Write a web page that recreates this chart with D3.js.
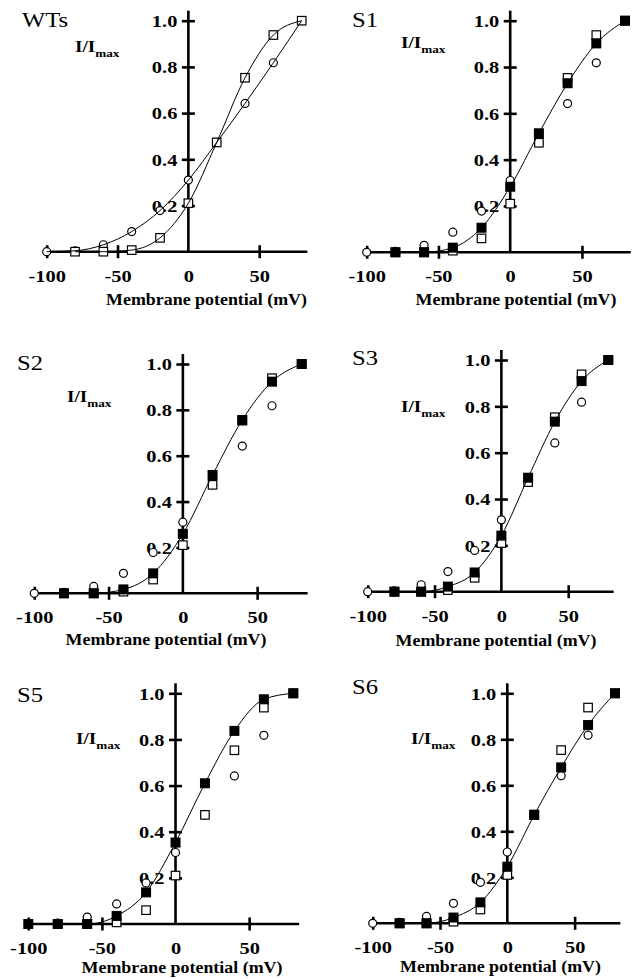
<!DOCTYPE html>
<html>
<head>
<meta charset="utf-8">
<script src="https://cdn.jsdelivr.net/npm/d3@7"></script>
<style>
  html, body { margin: 0; padding: 0; background: #fff; }
  svg { display: block; }
  text { font-family: "Liberation Serif", "Times New Roman", serif; fill: #000; }
</style>
</head>
<body>
<script>
// ---------------- DATA ----------------
const voltage = [-100, -80, -60, -40, -20, 0, 20, 40, 60, 80];           // mV
const wtCircles = [0, 0.004, 0.03, 0.087, 0.178, 0.31, 0.473, 0.642, 0.818, 1.0];
const wtSquares = [null, 0, 0, 0.007, 0.06, 0.21, 0.473, 0.753, 0.938, 1.0];
const mutantS1 = [null, 0, 0, 0.02, 0.106, 0.283, 0.514, 0.73, 0.902, 1.0];
const mutantS2 = [null, 0, 0, 0.017, 0.087, 0.259, 0.516, 0.756, 0.923, 1.0];
const mutantS3 = [null, 0, 0, 0.022, 0.083, 0.242, 0.492, 0.734, 0.909, 1.0];
const mutantS5 = [0, 0, 0, 0.035, 0.137, 0.353, 0.61, 0.837, 0.974, 1.0];
const mutantS6 = [null, 0, 0, 0.025, 0.091, 0.246, 0.471, 0.678, 0.862, 1.0];
const panelNames = ["WTs", "S1", "S2", "S3", "S5", "S6"];
const mutantSeries = [null, mutantS1, mutantS2, mutantS3, mutantS5, mutantS6];
const yTickValues = [0.2, 0.4, 0.6, 0.8, 1.0];
const xTickValues = [-100, -50, 0, 50];
const xTitle = "Membrane potential (mV)";

// ---------------- LAYOUT ----------------
const layout = [
  { xr: [46.7, 301.7], yr: [251.7, 20.7], label: [22, 27],   imax: [75, 52],    title: [206.5, 305] },
  { xr: [366.7, 625],  yr: [252.3, 20.7], label: [352, 27],  imax: [401, 48],   title: [516, 305] },
  { xr: [34.3, 301.7], yr: [593.3, 364],  label: [17, 370],  imax: [67, 402],   title: [166, 645] },
  { xr: [367.7, 608.3],yr: [591.7, 360],  label: [352, 365], imax: [401, 411.5],title: [496, 646] },
  { xr: [28.3, 293.3], yr: [924, 693.3],  label: [17, 701.5],imax: [76, 744],   title: [182, 973] },
  { xr: [372.7, 615],  yr: [923.3, 693.3],label: [352, 693.5],imax: [411, 744], title: [500.5, 972] }
];

const AXW = 2.6, TICK = 6.5, SX = 1.2;

const svg = d3.select("body").append("svg")
  .attr("width", 633).attr("height", 979);

function pts(values) {
  return voltage.map((v, i) => ({ v, val: values[i] })).filter(d => d.val !== null);
}

panelNames.forEach((name, pi) => {
  const L = layout[pi];
  const x = d3.scaleLinear().domain([-100, 80]).range(L.xr);
  const y = d3.scaleLinear().domain([0, 1]).range(L.yr);
  const g = svg.append("g");

  // panel label
  g.append("text")
    .attr("transform", `translate(${L.label[0]},${L.label[1]}) scale(1.23,1)`)
    .attr("font-size", 20)
    .text(name);

  // I/Imax label
  const t = g.append("text")
    .attr("transform", `translate(${L.imax[0]},${L.imax[1]}) scale(1.2,1)`)
    .attr("font-weight", "bold");
  t.append("tspan").attr("font-size", 16).text("I/I");
  t.append("tspan").attr("font-size", 11).attr("dy", 5).text("max");

  // x-axis title
  g.append("text")
    .attr("transform", `translate(${L.title[0]},${L.title[1]}) scale(1.12,1)`)
    .attr("text-anchor", "middle")
    .attr("font-weight", "bold")
    .attr("font-size", 16)
    .text(xTitle);

  // y axis (ticks + labels)
  const ya = g.append("g")
    .attr("transform", `translate(${x(0)},0)`)
    .call(d3.axisLeft(y).tickValues(yTickValues).tickSize(TICK).tickFormat(d3.format(".1f")));
  ya.attr("font-family", null).attr("font-size", null);
  ya.select(".domain").remove();
  ya.selectAll(".tick line").attr("x1", TICK).attr("stroke-width", AXW).attr("stroke", "#000");
  ya.selectAll(".tick text")
    .attr("x", 0).attr("dy", null)
    .attr("dominant-baseline", "central")
    .attr("transform", `translate(-11,0) scale(${SX},1)`)
    .attr("font-weight", "bold").attr("font-size", 17)
    .attr("font-family", '"Liberation Serif", serif');

  // x axis (ticks + labels)
  const xa = g.append("g")
    .attr("transform", `translate(0,${y(0)})`)
    .call(d3.axisBottom(x).tickValues(xTickValues).tickSize(TICK).tickFormat(d3.format("d")));
  xa.attr("font-family", null).attr("font-size", null);
  xa.select(".domain").remove();
  xa.selectAll(".tick line")
    .attr("y1", -TICK).attr("stroke-width", AXW).attr("stroke", "#000")
    .attr("display", d => d === 0 ? "none" : null);
  xa.selectAll(".tick text")
    .attr("y", 0).attr("dy", null)
    .attr("transform", `translate(0,30) scale(${SX},1)`)
    .attr("font-weight", "bold").attr("font-size", 17)
    .attr("font-family", '"Liberation Serif", serif')
    .text(d => d3.format("d")(d).replace("\u2212", "-"));

  // axis lines
  g.append("line")
    .attr("x1", x(-102)).attr("x2", x(84))
    .attr("y1", y(0)).attr("y2", y(0))
    .attr("stroke", "#000").attr("stroke-width", AXW);
  g.append("line")
    .attr("x1", x(0)).attr("x2", x(0))
    .attr("y1", y(0)).attr("y2", y(1) - 10)
    .attr("stroke", "#000").attr("stroke-width", AXW);

  const line = d3.line().x(d => x(d.v)).y(d => y(d.val)).curve(d3.curveMonotoneX);

  // WT open circles
  g.append("g").selectAll("circle").data(pts(wtCircles)).join("circle")
    .attr("cx", d => x(d.v)).attr("cy", d => y(d.val)).attr("r", 4)
    .attr("fill", "#fff").attr("stroke", "#000").attr("stroke-width", 1.2);

  // WT open squares
  const os = 8.5;
  g.append("g").selectAll("rect").data(pts(wtSquares)).join("rect")
    .attr("x", d => x(d.v) - os / 2).attr("y", d => y(d.val) - os / 2)
    .attr("width", os).attr("height", os)
    .attr("fill", "#fff").attr("stroke", "#000").attr("stroke-width", 1.2);

  const mut = mutantSeries[pi];
  if (mut) {
    const fs = 10;
    g.append("g").selectAll("rect").data(pts(mut)).join("rect")
      .attr("x", d => x(d.v) - fs / 2).attr("y", d => y(d.val) - fs / 2)
      .attr("width", fs).attr("height", fs)
      .attr("fill", "#000");
    g.append("path").datum(pts(mut)).attr("d", line)
      .attr("fill", "none").attr("stroke", "#000").attr("stroke-width", 1);
  } else {
    g.append("path").datum(pts(wtCircles)).attr("d", line)
      .attr("fill", "none").attr("stroke", "#000").attr("stroke-width", 1);
    g.append("path").datum(pts(wtSquares)).attr("d", line)
      .attr("fill", "none").attr("stroke", "#000").attr("stroke-width", 1);
  }
});
</script>
</body>
</html>
